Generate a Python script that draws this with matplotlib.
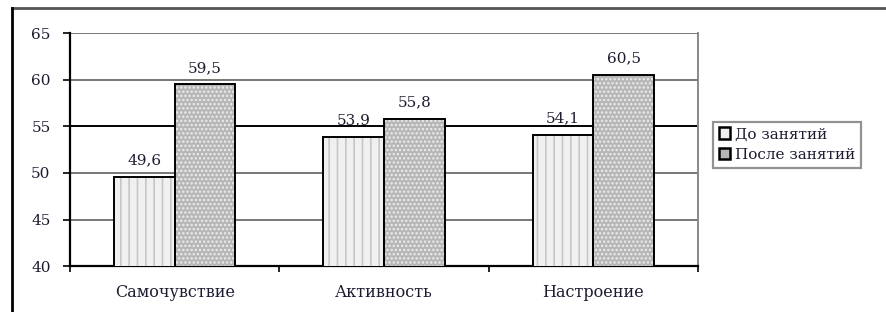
import numpy as np
import matplotlib.pyplot as plt
from matplotlib.lines import Line2D

categories = ['Самочувствие', 'Активность', 'Настроение']
before = [49.6, 53.9, 54.1]
after = [59.5, 55.8, 60.5]
series_names = ['До занятий', 'После занятий']
yticks = [40, 45, 50, 55, 60, 65]

plt.rcParams['font.family'] = ['DejaVu Serif']
plt.rcParams['hatch.linewidth'] = 1.2
txt_color = '#1c1c30'

fig = plt.figure(figsize=(8.86, 3.12), dpi=100)
ax = fig.add_axes([0.079, 0.147, 0.709, 0.747])

x = np.arange(len(categories))
w = 0.29

# hatched fill, then black outline on top
ax.bar(x - w / 2, before, w, color='#f0f0f0', hatch='||', edgecolor='#c6c6c6', linewidth=0, zorder=3)
ax.bar(x + w / 2, after, w, color='#b6b6b6', hatch='....', edgecolor='#ececec', linewidth=0, zorder=3)
ax.bar(x - w / 2, before, w, fill=False, edgecolor='black', linewidth=1.4, zorder=4)
ax.bar(x + w / 2, after, w, fill=False, edgecolor='black', linewidth=1.4, zorder=4)

for xi, v in zip(x, before):
    ax.text(xi - w / 2, v + 1.0, f'{v:.1f}'.replace('.', ','), ha='center', va='bottom', fontsize=11, color=txt_color)
for xi, v in zip(x, after):
    ax.text(xi + w / 2, v + 1.0, f'{v:.1f}'.replace('.', ','), ha='center', va='bottom', fontsize=11, color=txt_color)

ax.set_ylim(40, 65)
ax.set_xlim(-0.5, len(categories) - 0.5)
ax.set_yticks(yticks)
ax.set_yticklabels([str(t) for t in yticks], color=txt_color)
ax.set_xticks(x)
ax.set_xticklabels(categories, color=txt_color, fontsize=11.5)
ax.set_xticks(np.arange(len(categories) + 1) - 0.5, minor=True)
ax.tick_params(axis='x', which='major', length=0, pad=13)
ax.tick_params(axis='x', which='minor', length=4, width=1.2, direction='out')
ax.tick_params(axis='y', length=5, width=1.2, pad=9, labelsize=11)

for t in yticks[1:]:
    ax.axhline(t, color='black' if t == 55 else '#777777', linewidth=1.4, zorder=1)

ax.spines['left'].set_linewidth(1.6)
ax.spines['bottom'].set_linewidth(1.6)
ax.spines['top'].set_visible(False)
ax.spines['right'].set_color('#888888')
ax.spines['right'].set_linewidth(1.4)

handles = [plt.Rectangle((0, 0), 1, 1, facecolor='#f0f0f0', edgecolor='black', linewidth=1.8),
           plt.Rectangle((0, 0), 1, 1, facecolor='#b6b6b6', edgecolor='black', linewidth=1.8)]
leg = fig.legend(handles, series_names, loc='upper left', bbox_to_anchor=(0.805, 0.609),
                 fontsize=11, handlelength=0.75, handleheight=0.75, handletextpad=0.35,
                 labelspacing=0.45, borderpad=0.35, borderaxespad=0, fancybox=False)
for t in leg.get_texts():
    t.set_color(txt_color)
leg.get_frame().set_edgecolor('#777777')
leg.get_frame().set_linewidth(1.6)

# outer chart frame
fig.add_artist(Line2D([0.0135, 1.0], [0.975, 0.975], color='#555555', linewidth=2))
fig.add_artist(Line2D([0.0135, 0.0135], [0.0, 0.975], color='black', linewidth=2))

fig.savefig('out.png', dpi=100)
